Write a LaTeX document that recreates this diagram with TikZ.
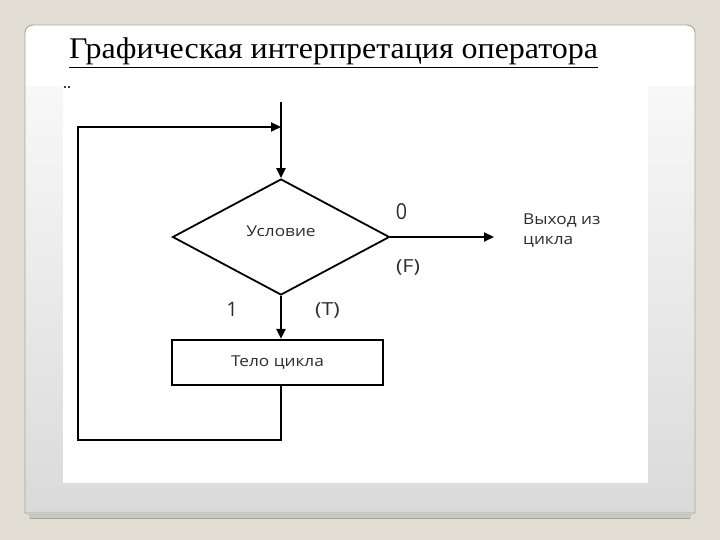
\documentclass[tikz,border=0pt]{standalone}
\usepackage{fontspec}
\setmainfont{Liberation Serif}
\newfontfamily\dsans{Open Sans}
\usetikzlibrary{arrows.meta,shapes.geometric}
\definecolor{pagebg}{RGB}{227,222,211}
\definecolor{cardedge}{RGB}{165,165,158}
\definecolor{bevelc}{RGB}{200,200,192}
\definecolor{bandtop}{RGB}{248,248,248}
\definecolor{bandbot}{RGB}{218,218,218}
\definecolor{dtext}{RGB}{45,45,45}
\newcommand{\wide}[1]{\scalebox{1.15}[1]{#1}}
\tikzset{
  flow/.style={line width=2.2pt, draw=black},
  arr/.style={flow, -{Triangle[length=10pt,width=9pt]}},
  lbl/.style={font=\dsans\fontsize{15}{17}\selectfont, text=dtext, inner sep=0pt},
  digitlbl/.style={font=\dsans\fontsize{22}{24}\selectfont, text=dtext, inner sep=0pt},
  parlbl/.style={font=\dsans\fontsize{18}{20}\selectfont, text=dtext, inner sep=0pt},
}
\begin{document}
\begin{tikzpicture}[x=1pt,y=-1pt]
\useasboundingbox (0,0) rectangle (720,540);
\fill[pagebg] (0,0) rectangle (720,540);
% card bevel at bottom
\fill[bevelc] (25,507) -- (30,518) -- (690,518) -- (695,507) -- cycle;
\draw[cardedge, line width=0.8pt] (30,518) -- (690,518);
% card
\fill[white] (25,513) -- (25,33) arc[start angle=180,end angle=270,radius=8] -- (687,25) arc[start angle=270,end angle=360,radius=8] -- (695,513) -- cycle;
\shade[top color=bandtop, bottom color=bandbot] (25,87) rectangle (695,513);
\draw[cardedge, line width=0.9pt] (25,513) -- (25,33) arc[start angle=180,end angle=270,radius=8] -- (687,25) arc[start angle=270,end angle=360,radius=8] -- (695,513) -- cycle;
% picture area
\fill[white] (63,78) rectangle (648,483);
\fill[black!75] (64,86) rectangle (66,88);
\fill[black!75] (68,86) rectangle (70,88);
% title
\node[anchor=base west, inner sep=0pt, font=\fontsize{30}{34}\selectfont] (title) at (69,59) {\scalebox{1.065}[1]{\underline{Графическая интерпретация оператора}}};
% flowchart
\coordinate (start) at (281,102);
\coordinate (join) at (281,127);
\node[diamond, draw, line width=1.8pt, minimum width=217pt, minimum height=116pt, inner sep=0pt, lbl] (cond) at (281,237) {\raisebox{12pt}{\wide{Условие}}};
\node[rectangle, draw, line width=2.2pt, minimum width=211pt, minimum height=45pt, inner sep=0pt, lbl] (body) at (277.5,362.5) {\raisebox{2pt}{\wide{Тело цикла}}};
\coordinate (exitpt) at (494,237);
\coordinate (lb) at (78,440);
\draw[arr] (start) -- (cond.north);
\draw[arr] (cond.south) -- (cond.south |- body.north);
\draw[arr] (cond.east) -- (exitpt);
\draw[arr] (cond.south |- body.south) |- (lb) |- (join);
\node[lbl, anchor=west, align=left] (exitlbl) at (523,231) {\wide{Выход из}\\[3pt]\wide{цикла}};
\node[digitlbl] (zero) at (401.5,212) {\scalebox{0.9}[1]{0}};
\node[parlbl] (F) at (408,267) {\scalebox{1.2}[1]{(F)}};
\node[digitlbl, font=\dsans\fontsize{20}{22}\selectfont] (one) at (232,309.5) {1};
\node[parlbl] (T) at (327.5,310) {\scalebox{1.2}[1]{(T)}};
\end{tikzpicture}
\end{document}
